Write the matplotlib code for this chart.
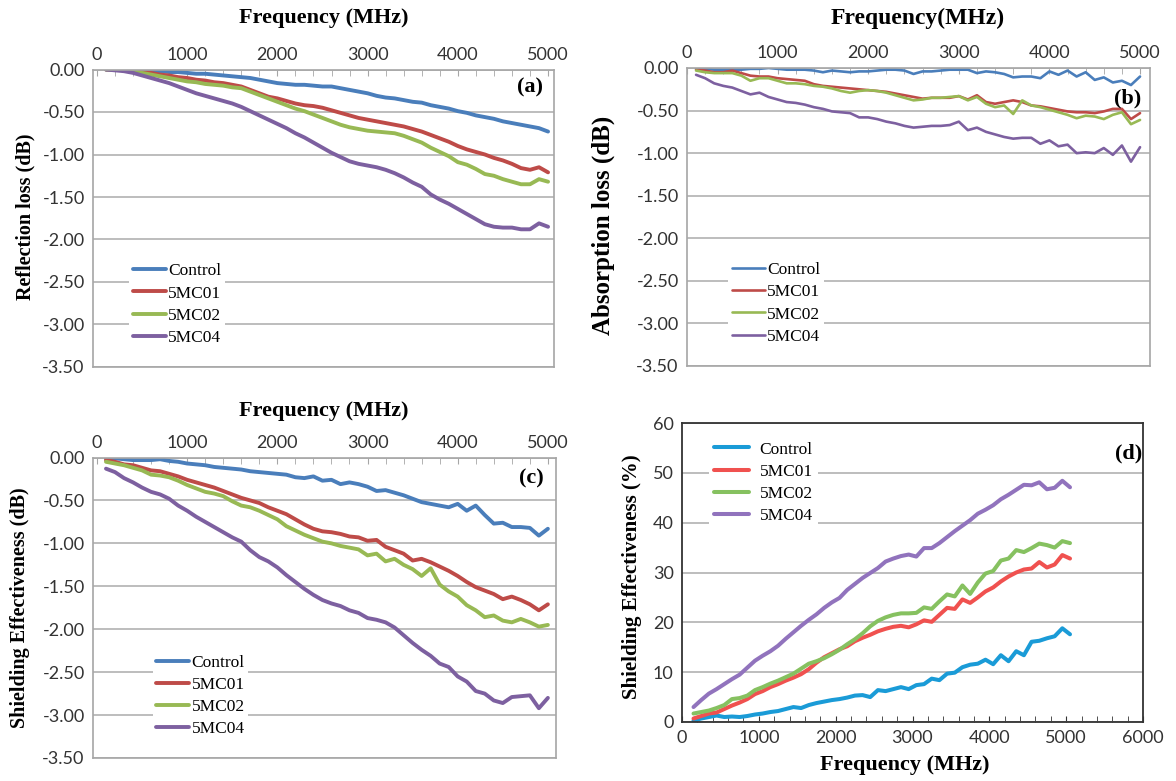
import numpy as np
import matplotlib
matplotlib.use('Agg')
import matplotlib.pyplot as plt
from matplotlib.ticker import MultipleLocator, FormatStrFormatter

# frequency grid (MHz)
freq = np.arange(100, 5001, 100)
freq_d = np.arange(150, 5051, 100)

labels = ['Control', '5MC01', '5MC02', '5MC04']

# (a) reflection loss (dB)
refl_control = [0, 0, 0, -0.01, -0.01, -0.02, -0.02, -0.03, -0.03, -0.04,
                -0.05, -0.05, -0.06, -0.07, -0.08, -0.09, -0.10, -0.12, -0.14, -0.16,
                -0.17, -0.18, -0.18, -0.19, -0.20, -0.20, -0.22, -0.24, -0.26, -0.28,
                -0.31, -0.33, -0.34, -0.36, -0.38, -0.39, -0.42, -0.44, -0.46, -0.49,
                -0.51, -0.54, -0.56, -0.58, -0.61, -0.63, -0.65, -0.67, -0.69, -0.73]
refl_5mc01 = [0, 0, -0.01, -0.02, -0.03, -0.04, -0.06, -0.07, -0.09, -0.10,
              -0.12, -0.13, -0.15, -0.16, -0.18, -0.20, -0.24, -0.28, -0.32, -0.34,
              -0.37, -0.40, -0.42, -0.43, -0.45, -0.48, -0.51, -0.54, -0.57, -0.59,
              -0.61, -0.63, -0.65, -0.67, -0.70, -0.73, -0.77, -0.81, -0.85, -0.90,
              -0.94, -0.97, -1.00, -1.04, -1.07, -1.11, -1.16, -1.18, -1.15, -1.21]
refl_5mc02 = [0, 0, -0.01, -0.02, -0.04, -0.06, -0.08, -0.10, -0.12, -0.14,
              -0.15, -0.17, -0.18, -0.19, -0.21, -0.22, -0.26, -0.30, -0.34, -0.38,
              -0.42, -0.46, -0.49, -0.53, -0.57, -0.61, -0.65, -0.68, -0.70, -0.72,
              -0.73, -0.74, -0.75, -0.78, -0.82, -0.86, -0.92, -0.97, -1.02, -1.09,
              -1.12, -1.17, -1.23, -1.25, -1.29, -1.32, -1.35, -1.35, -1.29, -1.32]
refl_5mc04 = [0, -0.01, -0.02, -0.04, -0.07, -0.10, -0.13, -0.16, -0.20, -0.24,
              -0.28, -0.31, -0.34, -0.37, -0.40, -0.44, -0.49, -0.54, -0.59, -0.64,
              -0.69, -0.75, -0.80, -0.86, -0.92, -0.98, -1.03, -1.08, -1.11, -1.13,
              -1.15, -1.18, -1.22, -1.27, -1.33, -1.38, -1.47, -1.53, -1.58, -1.64,
              -1.70, -1.76, -1.82, -1.85, -1.86, -1.86, -1.88, -1.88, -1.81, -1.85]

# (b) absorption loss (dB)
abs_control = [-0.01, -0.01, -0.02, -0.02, -0.02, -0.02, -0.01, -0.01, 0.0, -0.01,
               -0.02, -0.02, -0.02, -0.03, -0.05, -0.03, -0.04, -0.05, -0.04, -0.04,
               -0.03, -0.02, -0.02, -0.03, -0.07, -0.04, -0.04, -0.03, -0.02, -0.02,
               -0.02, -0.06, -0.04, -0.05, -0.07, -0.11, -0.10, -0.10, -0.12, -0.04,
               -0.08, -0.03, -0.10, -0.05, -0.14, -0.11, -0.17, -0.15, -0.20, -0.10]
abs_5mc01 = [-0.02, -0.03, -0.05, -0.05, -0.03, -0.06, -0.09, -0.10, -0.10, -0.12,
             -0.13, -0.14, -0.15, -0.19, -0.21, -0.22, -0.23, -0.24, -0.25, -0.26,
             -0.27, -0.28, -0.30, -0.32, -0.34, -0.36, -0.35, -0.35, -0.35, -0.33,
             -0.37, -0.32, -0.40, -0.42, -0.40, -0.38, -0.40, -0.44, -0.45, -0.47,
             -0.49, -0.51, -0.52, -0.52, -0.53, -0.51, -0.48, -0.48, -0.60, -0.53]
abs_5mc02 = [-0.03, -0.05, -0.06, -0.06, -0.06, -0.09, -0.15, -0.12, -0.12, -0.15,
             -0.18, -0.18, -0.19, -0.21, -0.22, -0.24, -0.27, -0.29, -0.27, -0.26,
             -0.27, -0.29, -0.32, -0.35, -0.38, -0.37, -0.35, -0.35, -0.34, -0.33,
             -0.38, -0.34, -0.42, -0.46, -0.44, -0.54, -0.38, -0.44, -0.46, -0.49,
             -0.52, -0.55, -0.59, -0.56, -0.57, -0.60, -0.55, -0.52, -0.66, -0.61]
abs_5mc04 = [-0.08, -0.12, -0.18, -0.21, -0.23, -0.27, -0.31, -0.29, -0.34, -0.37,
             -0.40, -0.41, -0.43, -0.46, -0.48, -0.51, -0.52, -0.53, -0.58, -0.58,
             -0.60, -0.63, -0.65, -0.68, -0.70, -0.69, -0.68, -0.68, -0.67, -0.63,
             -0.73, -0.70, -0.75, -0.78, -0.81, -0.83, -0.82, -0.82, -0.89, -0.85,
             -0.92, -0.90, -1.00, -0.99, -1.00, -0.94, -1.02, -0.91, -1.10, -0.93]

# (c) shielding effectiveness (dB)
se_control = [-0.01, -0.01, -0.02, -0.03, -0.03, -0.03, -0.02, -0.04, -0.05, -0.07,
              -0.08, -0.09, -0.11, -0.12, -0.13, -0.14, -0.16, -0.17, -0.18, -0.19,
              -0.20, -0.23, -0.24, -0.22, -0.27, -0.26, -0.31, -0.29, -0.31, -0.34,
              -0.39, -0.38, -0.41, -0.44, -0.48, -0.52, -0.54, -0.56, -0.58, -0.54,
              -0.62, -0.56, -0.67, -0.77, -0.76, -0.81, -0.81, -0.82, -0.91, -0.83]
se_5mc01 = [-0.03, -0.05, -0.08, -0.09, -0.12, -0.15, -0.16, -0.19, -0.22, -0.26,
            -0.29, -0.32, -0.35, -0.39, -0.43, -0.47, -0.50, -0.53, -0.58, -0.62,
            -0.66, -0.72, -0.78, -0.83, -0.86, -0.87, -0.89, -0.92, -0.93, -0.97,
            -0.96, -1.04, -1.08, -1.12, -1.20, -1.18, -1.22, -1.27, -1.32, -1.38,
            -1.45, -1.51, -1.55, -1.59, -1.65, -1.62, -1.66, -1.71, -1.78, -1.71]
se_5mc02 = [-0.05, -0.07, -0.09, -0.12, -0.15, -0.20, -0.21, -0.23, -0.27, -0.32,
            -0.36, -0.40, -0.42, -0.45, -0.51, -0.56, -0.58, -0.62, -0.67, -0.72,
            -0.80, -0.85, -0.90, -0.94, -0.98, -1.00, -1.03, -1.05, -1.07, -1.14,
            -1.12, -1.21, -1.18, -1.25, -1.30, -1.38, -1.29, -1.48, -1.56, -1.62,
            -1.72, -1.78, -1.86, -1.84, -1.90, -1.92, -1.88, -1.92, -1.97, -1.95]
se_5mc04 = [-0.13, -0.17, -0.24, -0.29, -0.35, -0.40, -0.43, -0.48, -0.56, -0.62,
            -0.69, -0.75, -0.81, -0.87, -0.93, -0.98, -1.08, -1.16, -1.21, -1.28,
            -1.37, -1.45, -1.53, -1.60, -1.66, -1.70, -1.73, -1.78, -1.81, -1.87,
            -1.89, -1.92, -1.98, -2.07, -2.16, -2.24, -2.31, -2.40, -2.44, -2.55,
            -2.61, -2.72, -2.75, -2.83, -2.86, -2.79, -2.78, -2.77, -2.92, -2.80]

# (d) shielding effectiveness (%)
pct_control = [0.3, 0.7, 1.0, 1.3, 1.0, 1.1, 1.0, 1.2, 1.5, 1.7,
               2.0, 2.2, 2.6, 3.0, 2.8, 3.4, 3.8, 4.1, 4.4, 4.6,
               4.9, 5.3, 5.4, 5.0, 6.4, 6.2, 6.6, 7.0, 6.6, 7.4,
               7.6, 8.7, 8.4, 9.7, 9.9, 11.0, 11.5, 11.7, 12.5, 11.6,
               13.4, 12.2, 14.2, 13.4, 16.1, 16.3, 16.8, 17.2, 18.8, 17.6]
pct_5mc01 = [0.7, 1.2, 1.7, 1.9, 2.6, 3.3, 3.9, 4.6, 5.6, 6.2,
             7.0, 7.6, 8.3, 8.9, 9.6, 10.6, 11.9, 13.0, 13.8, 14.6,
             15.2, 16.2, 16.9, 17.5, 18.2, 18.7, 19.1, 19.3, 19.0, 19.6,
             20.4, 20.1, 21.5, 22.9, 22.7, 24.6, 23.9, 25.0, 26.2, 27.0,
             28.2, 29.2, 30.0, 30.6, 30.8, 32.1, 31.0, 31.6, 33.5, 32.8]
pct_5mc02 = [1.7, 2.0, 2.3, 2.8, 3.4, 4.6, 4.8, 5.3, 6.4, 7.0,
             7.7, 8.3, 9.0, 9.7, 10.7, 11.7, 12.2, 12.8, 13.6, 14.5,
             15.6, 16.6, 17.8, 19.2, 20.3, 21.0, 21.5, 21.8, 21.8, 21.9,
             23.0, 22.7, 24.2, 25.6, 25.2, 27.4, 25.7, 28.0, 29.8, 30.3,
             32.4, 32.8, 34.5, 34.1, 34.9, 35.8, 35.5, 35.0, 36.3, 35.9]
pct_5mc04 = [3.0, 4.4, 5.7, 6.6, 7.6, 8.6, 9.5, 10.9, 12.3, 13.3,
             14.2, 15.3, 16.7, 18.0, 19.3, 20.5, 21.6, 22.9, 24.0, 24.9,
             26.5, 27.7, 28.9, 29.9, 30.9, 32.2, 32.8, 33.3, 33.6, 33.2,
             34.9, 34.9, 35.9, 37.1, 38.3, 39.4, 40.5, 41.8, 42.6, 43.5,
             44.7, 45.6, 46.6, 47.6, 47.5, 48.1, 46.7, 47.0, 48.4, 47.1]

excel_colors = ['#4A7EBB', '#BE4B48', '#98B954', '#7D60A0']
bright_colors = ['#1A9BD7', '#F0514F', '#86C160', '#9173BD']

W, H = 1176, 781
fig = plt.figure(figsize=(W / 100, H / 100), dpi=100)


def rect(l, t, r, b):
    return [l / W, 1 - b / H, (r - l) / W, (b - t) / H]


serif = 'Liberation Serif'
tick_font = 'Lato'
grid_c = '#BDBDBD'


def db_panel(box, xlim, series, colors, lw, ylabel, ylab_xy, ylab_size, tag, tag_xy, leg_anchor):
    ax = fig.add_axes(rect(*box))
    for vals, c, lab in zip(series, colors, labels):
        ax.plot(freq, vals, color=c, lw=lw, label=lab, solid_capstyle='round')
    ax.set_xlim(*xlim)
    ax.set_ylim(-3.5, 0)
    ax.xaxis.tick_top()
    ax.xaxis.set_major_locator(MultipleLocator(1000))
    ax.xaxis.set_minor_locator(MultipleLocator(200))
    ax.yaxis.set_major_locator(MultipleLocator(0.5))
    ax.yaxis.set_major_formatter(FormatStrFormatter('%.2f'))
    ax.tick_params(axis='x', which='both', direction='in', length=4, color='#A6A6A6', pad=5,
                   labelsize=13, labelcolor='#333333')
    ax.tick_params(axis='y', length=0, pad=6, labelsize=13, labelcolor='#333333')
    for t in ax.get_xticklabels() + ax.get_yticklabels():
        t.set_fontfamily(tick_font)
    ax.grid(axis='y', color=grid_c, lw=1.4)
    ax.set_axisbelow(True)
    for s in ax.spines.values():
        s.set_color('#A6A6A6')
        s.set_linewidth(1.2)
    ax.legend(loc='upper left', bbox_to_anchor=leg_anchor, frameon=True, fancybox=False,
              edgecolor='none', facecolor='white', framealpha=1,
              prop={'family': serif, 'size': 12.5}, handlelength=1.9, handletextpad=0.15,
              labelspacing=0.35, borderpad=0.2)
    fig.text(ylab_xy[0] / W, 1 - ylab_xy[1] / H, ylabel, rotation=90, ha='center', va='center',
             family=serif, weight='bold', size=ylab_size)
    fig.text(tag_xy[0] / W, 1 - tag_xy[1] / H, tag, ha='center', va='center',
             family=serif, weight='bold', size=16)
    return ax


db_panel((93, 69.5, 554, 367), (-44, 5066),
         [refl_control, refl_5mc01, refl_5mc02, refl_5mc04], excel_colors, 2.8,
         'Reflection loss (dB)', (25, 217), 14.5, '(a)', (530, 87), (0.06, 0.39))
fig.text(324 / W, 1 - 18 / H, 'Frequency (MHz)', ha='center', va='center',
         family=serif, weight='bold', size=16)

db_panel((687, 68, 1150, 366), (0, 5110),
         [abs_control, abs_5mc01, abs_5mc02, abs_5mc04], excel_colors, 1.9,
         'Absorption loss (dB)', (603, 225), 18, '(b)', (1128, 98), (0.07, 0.39))
fig.text(918 / W, 1 - 18 / H, 'Frequency(MHz)', ha='center', va='center',
         family=serif, weight='bold', size=17)

db_panel((93, 457.5, 556, 758), (-44, 5090),
         [se_control, se_5mc01, se_5mc02, se_5mc04], excel_colors, 2.8,
         'Shielding Effectiveness (dB)', (20, 608), 14.5, '(c)', (531, 478), (0.11, 0.385))
fig.text(324 / W, 1 - 411 / H, 'Frequency (MHz)', ha='center', va='center',
         family=serif, weight='bold', size=16)

# (d)
ax = fig.add_axes(rect(682, 423, 1143, 722))
for vals, c, lab in zip([pct_control, pct_5mc01, pct_5mc02, pct_5mc04], bright_colors, labels):
    ax.plot(freq_d, vals, color=c, lw=2.9, label=lab, solid_capstyle='round')
ax.set_xlim(0, 6000)
ax.set_ylim(0, 60)
ax.xaxis.set_major_locator(MultipleLocator(1000))
ax.xaxis.set_minor_locator(MultipleLocator(200))
ax.yaxis.set_major_locator(MultipleLocator(10))
ax.tick_params(axis='x', which='both', direction='in', length=4, color='#333333', pad=6,
               labelsize=13, labelcolor='#333333')
ax.tick_params(axis='y', length=0, pad=6, labelsize=13, labelcolor='#333333')
for t in ax.get_xticklabels() + ax.get_yticklabels():
    t.set_fontfamily(tick_font)
ax.grid(axis='y', color=grid_c, lw=1.4)
ax.set_axisbelow(True)
for s in ax.spines.values():
    s.set_color('#333333')
    s.set_linewidth(1.3)
ax.legend(loc='upper left', bbox_to_anchor=(0.04, 0.985), frameon=True, fancybox=False,
          edgecolor='none', facecolor='white', framealpha=1,
          prop={'family': serif, 'size': 12.5}, handlelength=2.0, handletextpad=0.6,
          labelspacing=0.35, borderpad=0.3)
fig.text(632 / W, 1 - 577 / H, 'Shielding Effectiveness (%)', rotation=90, ha='center',
         va='center', family=serif, weight='bold', size=15)
fig.text(905 / W, 1 - 765 / H, 'Frequency (MHz)', ha='center', va='center',
         family=serif, weight='bold', size=16)
fig.text(1129 / W, 1 - 453 / H, '(d)', ha='center', va='center',
         family=serif, weight='bold', size=16)

fig.savefig('out.png', dpi=100)
